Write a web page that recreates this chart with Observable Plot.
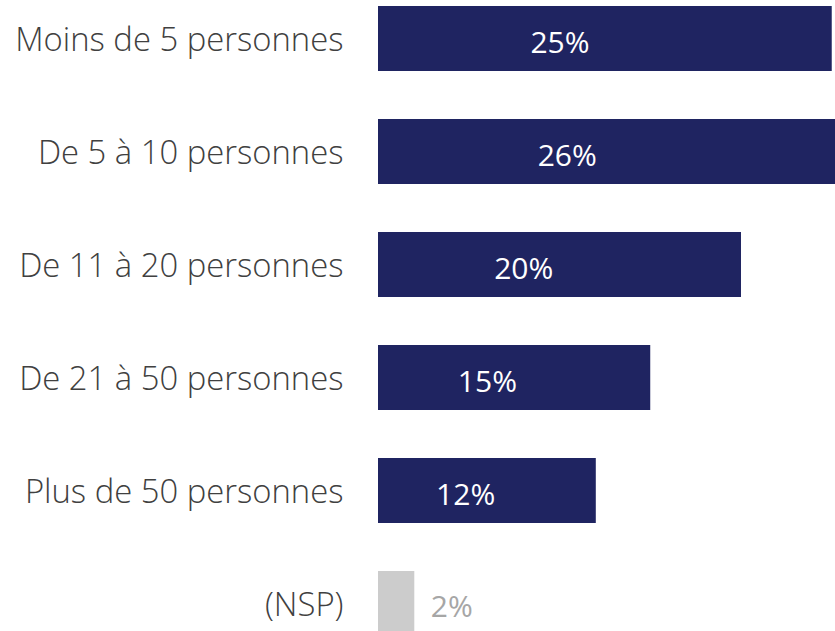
<!DOCTYPE html>
<html><head><meta charset="utf-8">
<script src="https://cdn.jsdelivr.net/npm/d3@7"></script>
<script src="https://cdn.jsdelivr.net/npm/@observablehq/plot@0.6"></script>
<style>html,body{margin:0;padding:0;overflow:hidden;background:#fff;}</style>
</head><body><div id="chart"></div>
<script>
const categories = ["Moins de 5 personnes","De 5 à 10 personnes","De 11 à 20 personnes","De 21 à 50 personnes","Plus de 50 personnes","(NSP)"];
const values = [25, 26, 20, 15, 12, 2];
const valueLabels = ["25%","26%","20%","15%","12%","2%"];
const isNsp = [false,false,false,false,false,true];

const data = categories.map((c,i)=>({cat:c, value:values[i], label:valueLabels[i], nsp:isNsp[i]}));
const main = data.filter(d=>!d.nsp), nsp = data.filter(d=>d.nsp);
const font = "'Open Sans', sans-serif";

const chart = Plot.plot({
  width: 835, height: 636,
  marginLeft: 378, marginRight: 0, marginTop: 5, marginBottom: 0,
  style: {fontFamily: font, background: "#fff"},
  x: {domain: [0, 25.18], axis: null},
  y: {domain: categories, axis: null, paddingInner: 0.427, paddingOuter: 0},
  marks: [
    Plot.barX(main, {y:"cat", x:"value", fill:"#1F2461"}),
    Plot.barX(nsp, {y:"cat", x:"value", fill:"#CCCCCC"}),
    Plot.text(main, {y:"cat", x: d=>d.value*0.4, text:"label", fill:"#fff", fontSize: 30, dy: 4, fontWeight: 400, fontFamily: font}),
    Plot.text(nsp, {y:"cat", x:"value", text:"label", fill:"#A6A6A6", fontSize: 30, textAnchor:"start", dx: 16, dy: 3, fontWeight: 400, fontFamily: font}),
    Plot.text(data, {y:"cat", x: 0, text:"cat", fill:"#404040", fontSize: 32.8, fontWeight: 350, textAnchor:"end", dx: -35, dy: 1, fontFamily: font})
  ]
});
document.getElementById("chart").appendChild(chart);
</script></body></html>
